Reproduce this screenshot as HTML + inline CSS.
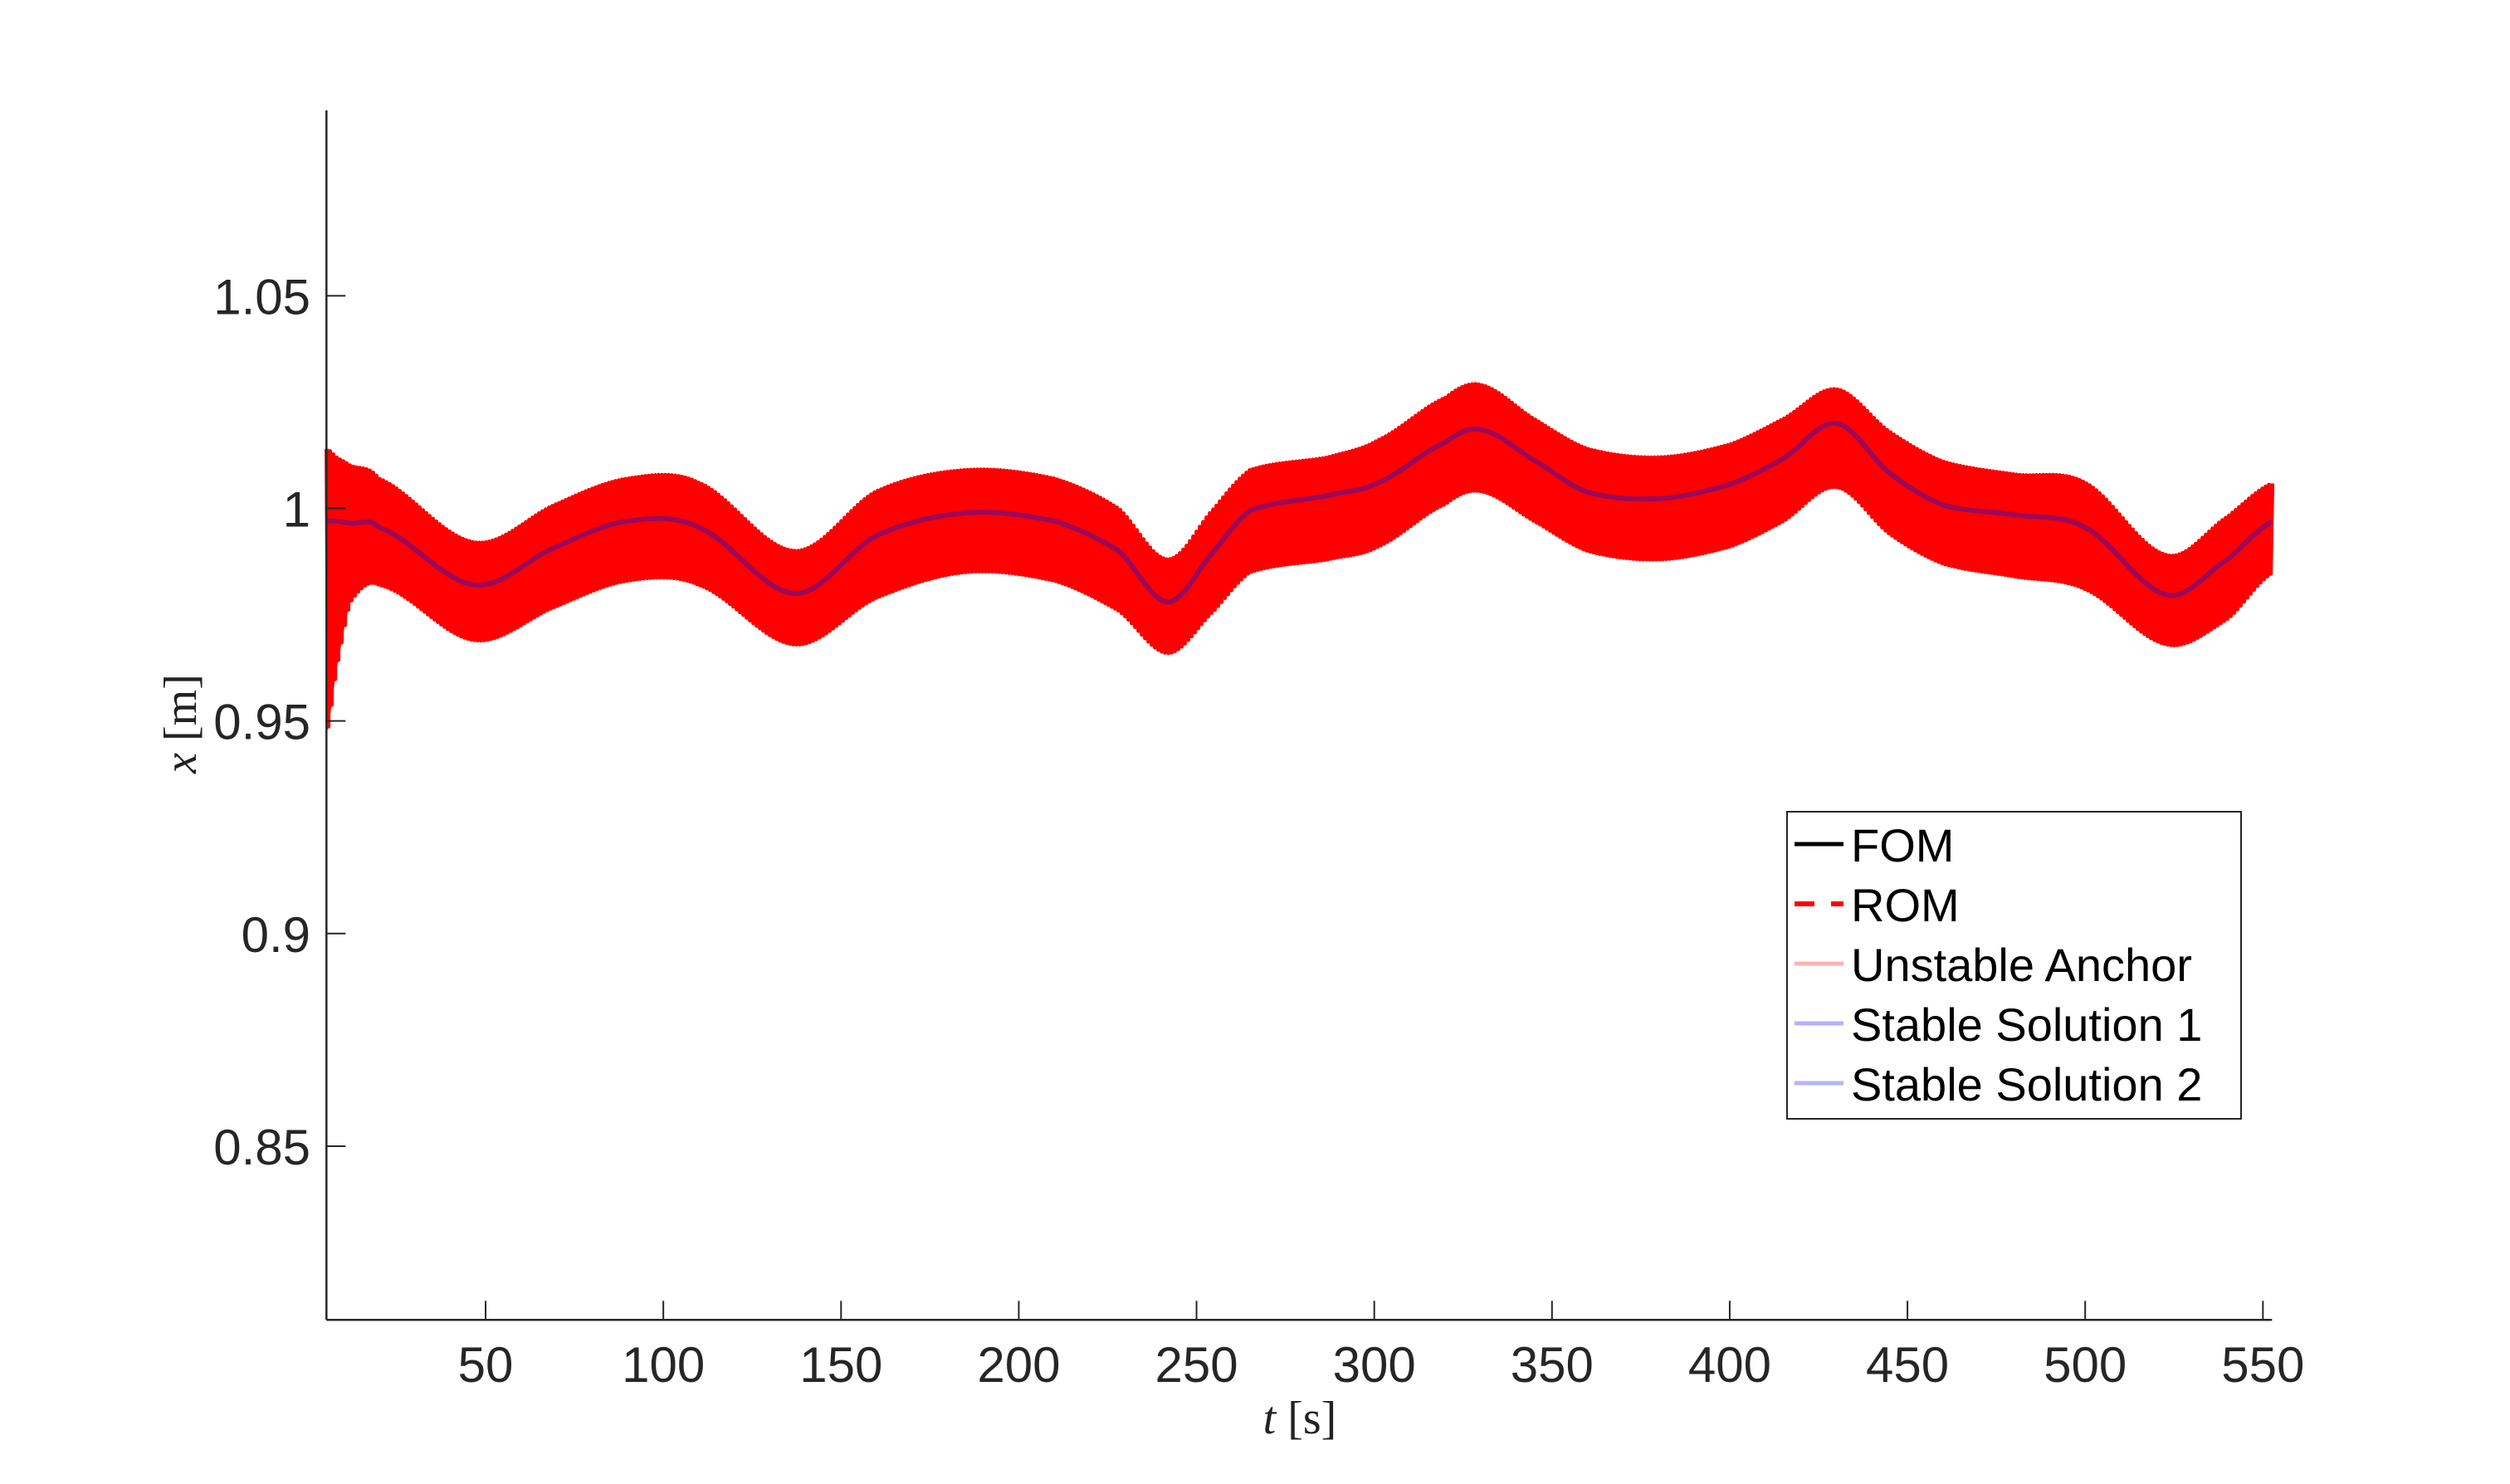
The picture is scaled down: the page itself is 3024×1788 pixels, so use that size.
<!DOCTYPE html>
<html><head><meta charset="utf-8"><style>
html,body{margin:0;padding:0;background:#fff;}
svg{display:block;}
</style></head><body>
<svg id="chart" width="3024" height="1788" viewBox="0 0 3024 1788" xmlns="http://www.w3.org/2000/svg">
<rect width="3024" height="1788" fill="#fff"/>
<g id="plot"></g>
<g id="axes"></g>
<text transform="translate(236,872) rotate(-90)" text-anchor="middle" font-family="Liberation Serif, serif" font-size="56" fill="#222"><tspan font-style="italic">x</tspan> [m]</text>
<text x="1566" y="1727" text-anchor="middle" font-family="Liberation Serif, serif" font-size="56" fill="#222"><tspan font-style="italic">t</tspan> [s]</text>
<g>
<rect x="2153" y="978" width="547" height="370" fill="#fff" stroke="#262626" stroke-width="2"/>
<g><line x1="2162" y1="1017" x2="2221" y2="1017" stroke="#000" stroke-width="5"/><text x="2230" y="1038" font-family="Liberation Sans, sans-serif" font-size="56">FOM</text></g>
<g><line x1="2162" y1="1089" x2="2221" y2="1089" stroke="#f00" stroke-width="6" stroke-dasharray="24,20,15,30"/><text x="2230" y="1110" font-family="Liberation Sans, sans-serif" font-size="56">ROM</text></g>
<g><line x1="2162" y1="1161" x2="2221" y2="1161" stroke="#ffb3b3" stroke-width="5"/><text x="2230" y="1182" font-family="Liberation Sans, sans-serif" font-size="56">Unstable Anchor</text></g>
<g><line x1="2162" y1="1233" x2="2221" y2="1233" stroke="#b3b3ff" stroke-width="5"/><text x="2230" y="1254" font-family="Liberation Sans, sans-serif" font-size="56">Stable Solution 1</text></g>
<g><line x1="2162" y1="1305" x2="2221" y2="1305" stroke="#b3b3ff" stroke-width="5"/><text x="2230" y="1326" font-family="Liberation Sans, sans-serif" font-size="56">Stable Solution 2</text></g>
</g>
</svg>
<script>
const times = [5.3,8,12,20,47,70,90,110,137,160,185,210,228,242,255,265,287,301,320,330,345,360,380,400,415,430,445,460,480,500,523,540,553];
const centerValues = [0.997,0.997,0.9965,0.9955,0.982,0.991,0.997,0.9955,0.980,0.9936,0.9989,0.997,0.990,0.978,0.990,0.9995,1.003,1.006,1.0155,1.0185,1.0113,1.0038,1.0023,1.0056,1.0117,1.020,1.0083,1.0008,0.9985,0.9955,0.9797,0.988,0.997];
const romUpper = [1.014,1.012,1.010,1.007,0.992,1.001,1.007,1.006,0.990,1.004,1.009,1.007,1.000,0.988,1.000,1.009,1.012,1.016,1.026,1.029,1.021,1.014,1.012,1.015,1.021,1.028,1.018,1.011,1.008,1.006,0.989,0.998,1.006];
const romLower = [0.947,0.962,0.978,0.982,0.969,0.977,0.983,0.982,0.968,0.979,0.985,0.983,0.976,0.966,0.976,0.985,0.988,0.991,1.001,1.004,0.997,0.990,0.988,0.991,0.997,1.005,0.994,0.987,0.984,0.981,0.968,0.974,0.985];
const xTicks = [50,100,150,200,250,300,350,400,450,500,550];
const yTicks = [0.85,0.9,0.95,1,1.05];
const yTickLabels = ["0.85","0.9","0.95","1","1.05"];

const NS="http://www.w3.org/2000/svg";
const X0=393.3, X1=2737.3, Y0=133, Y1=1590.3;
function sx(t){return 370.9+t*4.2826;}
function sy(v){return 612.5-(v-1)*5123;}
function mk(tag,attrs,parent){const e=document.createElementNS(NS,tag);for(const k in attrs)e.setAttribute(k,attrs[k]);parent.appendChild(e);return e;}
function smoothInterp(arr,t){
  let i=1;while(i<times.length-1&&t>times[i])i++;
  const p0=arr[Math.max(i-2,0)],p1=arr[i-1],p2=arr[i],p3=arr[Math.min(i+1,arr.length-1)];
  const u=Math.max(0,Math.min(1,(t-times[i-1])/(times[i]-times[i-1])));
  return 0.5*((2*p1)+(-p0+p2)*u+(2*p0-5*p1+4*p2-p3)*u*u+(-p0+3*p1-3*p2+p3)*u*u*u);
}
const plot=document.getElementById('plot');
const tA=times[0], tB=times[times.length-1];
let up=[],lo=[];
for(let px=sx(tA);px<=sx(tB);px+=2){const t=(px-370.9)/4.2826;up.push([px,sy(smoothInterp(romUpper,t))]);lo.push([px,sy(smoothInterp(romLower,t))]);}
const band=mk('path',{d:'M'+up.map(p=>p[0].toFixed(1)+','+p[1].toFixed(1)).join('L')+'L'+lo.slice().reverse().map(p=>p[0].toFixed(1)+','+p[1].toFixed(1)).join('L')+'Z',fill:'#ff0000'},plot);


let zz='';
for(let i=0;i<up.length;i++){const p=(i%2===0)?up[i]:lo[i];zz+=(i?'L':'M')+p[0].toFixed(1)+','+p[1].toFixed(1);}
const rom=mk('path',{d:zz,fill:'none',stroke:'#ff0000','stroke-width':5,'stroke-linejoin':'round'},plot);


let cd='';
for(let px=sx(tA);px<=sx(tB);px+=2){const t=(px-370.9)/4.2826;cd+=(cd?'L':'M')+px.toFixed(1)+','+sy(smoothInterp(centerValues,t)).toFixed(1);}
const cl=mk('path',{d:cd,fill:'none',stroke:'#9a0a5a','stroke-width':6},plot);


const axes=document.getElementById('axes');
const ya=mk('line',{x1:X0,y1:Y0,x2:X0,y2:Y1,stroke:'#262626','stroke-width':2.5},axes);


const xa=mk('line',{x1:X0,y1:Y1,x2:X1,y2:Y1,stroke:'#262626','stroke-width':2.5},axes);


xTicks.forEach(v=>{
  const x=sx(v);
  const tk=mk('line',{x1:x,y1:Y1,x2:x,y2:Y1-23,stroke:'#262626','stroke-width':2},axes);
  
  
  const tl=mk('text',{x:x,y:1665,'text-anchor':'middle','font-family':'Liberation Sans, sans-serif','font-size':60,fill:'#262626'},axes);
  tl.textContent=String(v);
  
  
});
yTicks.forEach((v,i)=>{
  const y=sy(v);
  const tk=mk('line',{x1:X0,y1:y,x2:X0+23,y2:y,stroke:'#262626','stroke-width':2},axes);
  
  
  const tl=mk('text',{x:374,y:y+22,'text-anchor':'end','font-family':'Liberation Sans, sans-serif','font-size':60,fill:'#262626'},axes);
  tl.textContent=yTickLabels[i];
  
  
});
</script>
</body></html>
